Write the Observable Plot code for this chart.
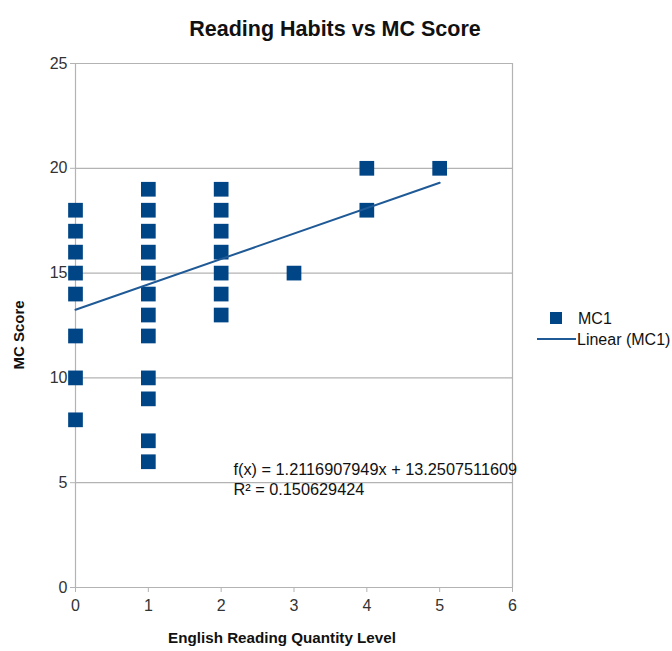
<!DOCTYPE html>
<html>
<head>
<meta charset="utf-8">
<script src="https://cdn.jsdelivr.net/npm/d3@7"></script>
<script src="https://cdn.jsdelivr.net/npm/@observablehq/plot@0.6"></script>
<style>
  html, body { margin: 0; padding: 0; background: #fff; }
  #chart { width: 672px; height: 651px; }
</style>
</head>
<body>
<div id="chart"></div>
<script>
// Data
const readingLevel = [0,0,0,0,0,0,0,0, 1,1,1,1,1,1,1,1,1,1,1,1, 2,2,2,2,2,2,2, 3, 4,4, 5];
const mcScore      = [18,17,16,15,14,12,10,8, 19,18,17,16,15,14,13,12,10,9,7,6, 19,18,17,16,15,14,13, 15, 20,18, 20];
const trendSlope = 1.2116907949;
const trendIntercept = 13.2507511609;
const trendR2 = 0.150629424;
const trendX = [0, 5];
const xTicks = [0,1,2,3,4,5,6];
const yTicks = [0,5,10,15,20,25];

const points = readingLevel.map((x, i) => ({x, y: mcScore[i]}));
const trend = trendX.map(x => ({x, y: trendSlope * x + trendIntercept}));

const font = "'Liberation Sans', Arial, sans-serif";
const blue = "#004586";
const lineBlue = "#1f5a96";
const grid = "#b3b3b3";

const plot = Plot.plot({
  width: 672,
  height: 651,
  marginLeft: 75,
  marginRight: 160,
  marginTop: 63,
  marginBottom: 64,
  style: {fontFamily: font, fontSize: "16px", color: "#333", background: "#fff"},
  x: {domain: [0, 6], ticks: xTicks, tickFormat: "d", label: null},
  y: {domain: [0, 25], ticks: yTicks, tickFormat: "d", label: null},
  marks: [
    Plot.ruleY(yTicks, {stroke: grid, strokeWidth: 1.2}),
    Plot.ruleX([0, 6], {stroke: grid, strokeWidth: 1.2}),
    Plot.axisX({ticks: xTicks, tickFormat: "d", tickSize: 5, tickPadding: 7, stroke: grid, fill: "#333", fontSize: 16}),
    Plot.axisY({ticks: yTicks, tickFormat: "d", tickSize: 5, tickPadding: 3, stroke: grid, fill: "#333", fontSize: 16}),
    Plot.dot(points, {x: "x", y: "y", symbol: "square", r: 8.3, fill: blue, stroke: "none"}),
    Plot.line(trend, {x: "x", y: "y", stroke: lineBlue, strokeWidth: 2}),
    Plot.text([`f(x) = ${trendSlope}x + ${trendIntercept}`], {frameAnchor: "top-left", dx: 158, dy: 400, textAnchor: "start", fontSize: 16.3, fill: "#111"}),
    Plot.text([`R² = ${trendR2}`], {frameAnchor: "top-left", dx: 158, dy: 420, textAnchor: "start", fontSize: 16.3, fill: "#111"}),
    Plot.text(["Reading Habits vs MC Score"], {frameAnchor: "top", dx: 41, dy: -43, fontSize: 21.5, fontWeight: "bold", fill: "#111"}),
    Plot.text(["English Reading Quantity Level"], {frameAnchor: "bottom", dx: -12, dy: 55, fontSize: 15.2, fontWeight: "bold", fill: "#111"})
  ]
});
document.getElementById("chart").appendChild(plot);

const svg = d3.select(plot);
// Y axis title
svg.append("text")
  .attr("transform", "translate(24,335) rotate(-90)")
  .attr("text-anchor", "middle")
  .attr("font-family", font).attr("font-size", 15).attr("font-weight", "bold").attr("fill", "#111")
  .text("MC Score");

// Legend (outside the plot frame)
const lg = svg.append("g").attr("font-family", font).attr("font-size", 16).attr("fill", "#111").attr("text-anchor", "start");
lg.append("rect").attr("x", 550).attr("y", 312).attr("width", 12).attr("height", 12).attr("fill", blue);
lg.append("text").attr("x", 578).attr("y", 324).text("MC1");
lg.append("line").attr("x1", 537).attr("x2", 576).attr("y1", 339).attr("y2", 339).attr("stroke", lineBlue).attr("stroke-width", 2);
lg.append("text").attr("x", 577).attr("y", 345).text("Linear (MC1)");
</script>
</body>
</html>
